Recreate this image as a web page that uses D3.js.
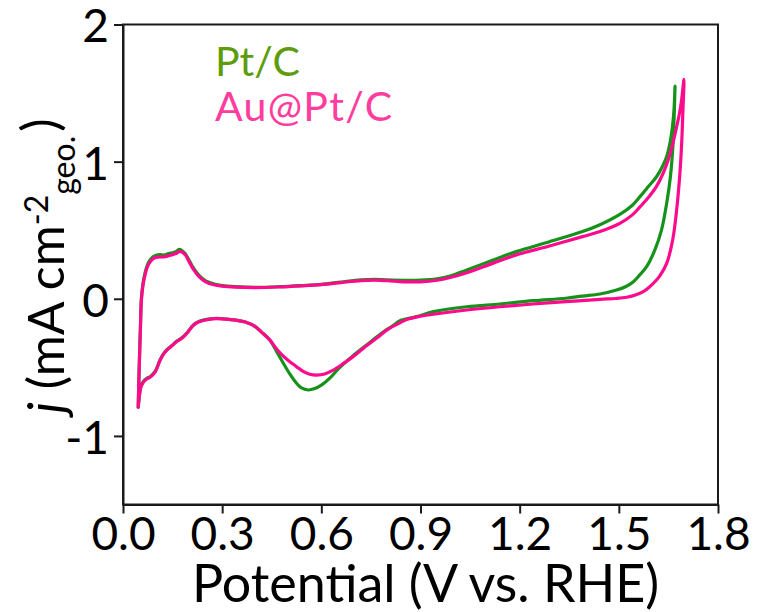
<!DOCTYPE html>
<html>
<head>
<meta charset="utf-8">
<script src="https://cdn.jsdelivr.net/npm/d3@7"></script>
<style>
  html, body { margin: 0; padding: 0; background: #fff; }
  svg { display: block; font-family: Lato, "Open Sans", sans-serif; }
</style>
</head>
<body>
<svg id="chart" width="761" height="612"></svg>
<script>
// Cyclic voltammograms, [potential V vs RHE, current density mA cm^-2]
const ptcAnodic = [
  [0.046,-0.79],[0.049,-0.50],[0.053,-0.18],[0.056,0.015],[0.064,0.16],[0.077,0.265],
  [0.090,0.305],[0.100,0.318],[0.112,0.322],[0.125,0.318],[0.138,0.33],[0.150,0.335],
  [0.160,0.343],[0.170,0.36],[0.178,0.352],[0.188,0.33],[0.200,0.28],[0.213,0.225],
  [0.230,0.17],[0.250,0.13],[0.275,0.108],[0.300,0.096],[0.340,0.088],[0.400,0.084],
  [0.470,0.088],[0.540,0.096],[0.600,0.105],[0.660,0.122],[0.720,0.138],[0.760,0.142],
  [0.800,0.138],[0.850,0.135],[0.900,0.136],[0.950,0.146],[0.990,0.166],[1.040,0.21],
  [1.120,0.283],[1.190,0.344],[1.290,0.416],[1.390,0.49],[1.443,0.54],[1.503,0.615],
  [1.540,0.68],[1.564,0.745],[1.590,0.82],[1.614,0.89],[1.633,0.97],[1.645,1.04],
  [1.655,1.14],[1.662,1.25],[1.667,1.38],[1.670,1.55]
];
const ptcCathodic = [
  [1.670,1.55],[1.668,1.38],[1.664,1.13],[1.656,0.89],[1.645,0.70],[1.629,0.50],
  [1.609,0.356],[1.584,0.234],[1.560,0.165],[1.544,0.125],[1.520,0.088],[1.493,0.064],
  [1.443,0.035],[1.390,0.02],[1.340,0.004],[1.240,-0.014],[1.140,-0.038],[1.040,-0.058],
  [0.939,-0.094],[0.888,-0.13],[0.838,-0.16],[0.817,-0.195],[0.777,-0.26],[0.737,-0.337],
  [0.696,-0.415],[0.656,-0.50],[0.625,-0.58],[0.600,-0.63],[0.580,-0.655],[0.560,-0.665],
  [0.540,-0.65],[0.525,-0.616],[0.505,-0.55],[0.485,-0.47],[0.465,-0.385],[0.444,-0.30],
  [0.420,-0.245],[0.400,-0.203],[0.370,-0.17],[0.340,-0.155],[0.300,-0.145],[0.283,-0.142],
  [0.260,-0.148],[0.243,-0.155],[0.225,-0.17],[0.213,-0.19],[0.193,-0.25],[0.178,-0.285],
  [0.162,-0.31],[0.148,-0.34],[0.132,-0.373],[0.120,-0.41],[0.112,-0.446],[0.097,-0.53],
  [0.082,-0.568],[0.072,-0.58],[0.061,-0.605],[0.054,-0.64],[0.050,-0.70],[0.046,-0.79]
];
const aupAnodic = [
  [0.046,-0.79],[0.049,-0.51],[0.053,-0.20],[0.056,0.0],[0.064,0.145],[0.077,0.25],
  [0.090,0.29],[0.100,0.302],[0.112,0.306],[0.125,0.305],[0.138,0.315],[0.150,0.322],
  [0.160,0.33],[0.172,0.345],[0.180,0.338],[0.190,0.315],[0.200,0.27],[0.213,0.215],
  [0.230,0.162],[0.250,0.124],[0.275,0.102],[0.300,0.092],[0.340,0.085],[0.400,0.082],
  [0.470,0.086],[0.540,0.094],[0.600,0.103],[0.660,0.118],[0.720,0.132],[0.760,0.136],
  [0.800,0.132],[0.850,0.124],[0.900,0.124],[0.950,0.135],[0.990,0.155],[1.040,0.19],
  [1.120,0.26],[1.190,0.32],[1.290,0.385],[1.390,0.453],[1.443,0.49],[1.503,0.55],
  [1.540,0.61],[1.564,0.67],[1.590,0.74],[1.614,0.82],[1.633,0.91],[1.649,1.01],
  [1.663,1.13],[1.675,1.255],[1.684,1.36],[1.690,1.45],[1.697,1.60]
];
const aupCathodic = [
  [1.697,1.60],[1.694,1.38],[1.690,1.13],[1.684,0.89],[1.675,0.65],[1.663,0.43],
  [1.645,0.26],[1.625,0.17],[1.614,0.137],[1.590,0.08],[1.574,0.052],[1.550,0.028],
  [1.524,0.011],[1.490,0.002],[1.443,-0.004],[1.340,-0.021],[1.240,-0.038],[1.140,-0.058],
  [1.040,-0.082],[0.939,-0.113],[0.893,-0.13],[0.860,-0.15],[0.838,-0.175],[0.800,-0.225],
  [0.767,-0.288],[0.730,-0.355],[0.697,-0.42],[0.665,-0.475],[0.636,-0.52],[0.610,-0.548],
  [0.586,-0.556],[0.565,-0.55],[0.545,-0.53],[0.525,-0.495],[0.500,-0.45],[0.475,-0.395],
  [0.455,-0.335],[0.444,-0.30],[0.420,-0.245],[0.400,-0.203],[0.370,-0.17],[0.340,-0.155],
  [0.300,-0.147],[0.283,-0.145],[0.260,-0.15],[0.243,-0.158],[0.225,-0.173],[0.213,-0.193],
  [0.193,-0.252],[0.178,-0.288],[0.162,-0.313],[0.148,-0.343],[0.132,-0.376],[0.120,-0.413],
  [0.112,-0.45],[0.097,-0.535],[0.082,-0.572],[0.072,-0.585],[0.061,-0.61],[0.054,-0.645],
  [0.050,-0.70],[0.046,-0.79]
];

const seriesNames = ["Pt/C", "Au@Pt/C"];
const lineColors = ["#14921a", "#ff0a8c"];
const legendColors = ["#5e9c0c", "#ff3d9e"];
const xTicks = [0.0, 0.3, 0.6, 0.9, 1.2, 1.5, 1.8];
const yTicks = [-1, 0, 1, 2];

const svg = d3.select("#chart");
const margin = { left: 123, right: 43, top: 24.5, bottom: 107.5 };
const W = 761, H = 612;

const x = d3.scaleLinear().domain([0, 1.8]).range([margin.left, W - margin.right]);
const y = d3.scaleLinear().domain([-1.5, 2]).range([H - margin.bottom, margin.top]);

const line = d3.line()
  .x(d => x(d[0]))
  .y(d => y(d[1]))
  .curve(d3.curveCatmullRom.alpha(0.5));

const loops = [
  ptcAnodic.concat(ptcCathodic.slice(1)),
  aupAnodic.concat(aupCathodic.slice(1))
];

const plot = svg.append("g");
loops.forEach((pts, i) => {
  plot.append("path")
    .attr("d", line(pts))
    .attr("fill", "none")
    .attr("stroke", lineColors[i])
    .attr("stroke-width", 3.2)
    .attr("stroke-linejoin", "round")
    .attr("stroke-linecap", "round");
});

// Frame
const axisColor = "#1a1a1a";
svg.append("rect")
  .attr("x", x(0)).attr("y", y(2))
  .attr("width", x(1.8) - x(0)).attr("height", y(-1.5) - y(2))
  .attr("fill", "none").attr("stroke", axisColor).attr("stroke-width", 2);

// Axes
const xAxis = d3.axisBottom(x).tickValues(xTicks).tickFormat(d3.format(".1f"))
  .tickSizeInner(9).tickSizeOuter(0).tickPadding(3);
const yAxis = d3.axisLeft(y).tickValues(yTicks).tickFormat(d3.format("d"))
  .tickSizeInner(9).tickSizeOuter(0).tickPadding(5);

const gx = svg.append("g").attr("transform", `translate(0,${y(-1.5)})`).call(xAxis);
const gy = svg.append("g").attr("transform", `translate(${x(0)},0)`).call(yAxis);
[gx, gy].forEach(g => {
  g.select(".domain").attr("stroke", axisColor).attr("stroke-width", 2);
  g.selectAll(".tick line").attr("stroke", axisColor).attr("stroke-width", 2);
  g.selectAll(".tick text").attr("fill", "#000")
    .style("font-family", "Lato, 'Open Sans', sans-serif").style("font-size", "46px");
});
gy.selectAll(".tick text").text(d => d < 0 ? "-" + Math.abs(d) : d).attr("dy", "0.38em");
gx.selectAll(".tick text").attr("dy", "0.72em");

// Axis titles
svg.append("text")
  .attr("x", (x(0) + x(1.8)) / 2 + 5).attr("y", 602)
  .attr("text-anchor", "middle")
  .style("font-size", "52px").attr("fill", "#000")
  .text("Potential (V vs. RHE)");

const yl = svg.append("text")
  .attr("transform", "translate(64,266) rotate(-90)")
  .attr("text-anchor", "middle")
  .style("font-size", "50px").attr("fill", "#000");
yl.append("tspan").style("font-style", "italic").text("j");
yl.append("tspan").text(" (mA cm");
yl.append("tspan").attr("dy", "-0.5em").style("font-size", "32px").text("-2");
yl.append("tspan").attr("dy", "0.85em").style("font-size", "32px").text("geo.");
yl.append("tspan").attr("dy", "-0.35em").attr("dx", "4").text(")");

// Legend
const legend = svg.append("g");
seriesNames.forEach((name, i) => {
  legend.append("text")
    .attr("x", 215).attr("y", 76 + i * 45)
    .style("font-size", "41px")
    .style("letter-spacing", i === 1 ? "1.3px" : "0px")
    .attr("fill", legendColors[i])
    .text(name);
});
</script>
</body>
</html>
